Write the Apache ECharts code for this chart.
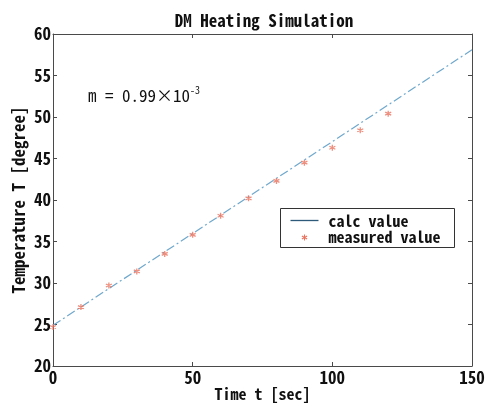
<!DOCTYPE html>
<html>
<head>
<meta charset="utf-8">
<script src="https://cdn.jsdelivr.net/npm/echarts@6/dist/echarts.min.js"></script>
<style>
  html, body { margin: 0; padding: 0; background: #fff; }
  #chart { width: 489px; height: 403px; }
</style>
</head>
<body>
<div id="chart"></div>
<script>
// Sample times (sec) and measured temperatures (degree)
const measuredTime = [0, 10, 20, 30, 40, 50, 60, 70, 80, 90, 100, 110, 120];
const measuredTemp = [24.7, 27.1, 29.7, 31.4, 33.5, 35.8, 38.1, 40.2, 42.3, 44.5, 46.3, 48.4, 50.4];

// Calculated heating curve (end points of the straight fit)
const calcTime = [0, 150];
const calcTemp = [24.9, 58.1];

// Axis tick values
const xTicks = [0, 50, 100, 150];
const yTicks = [20, 25, 30, 35, 40, 45, 50, 55, 60];

const seriesNames = ['calc value', 'measured value'];

const MONO = "'Noto Sans Mono CJK JP', 'DejaVu Sans Mono', monospace";
const AXIS_COLOR = '#4a4a4a';
const CALC_COLOR = '#6fa8cc';
const CALC_LEGEND_COLOR = '#2c5a78';
const MEAS_COLOR = '#e8735f';

const asterisk = 'path://M0,-5L0,5M-4.33,-2.5L4.33,2.5M-4.33,2.5L4.33,-2.5';

// small asterisk built from three strokes, for the legend key
function legendStar(cx, cy, r) {
  const s = { stroke: MEAS_COLOR, lineWidth: 1.1 };
  const dx = r * 0.866, dy = r * 0.5;
  return [
    { type: 'line', shape: { x1: cx, y1: cy - r, x2: cx, y2: cy + r }, style: s },
    { type: 'line', shape: { x1: cx - dx, y1: cy - dy, x2: cx + dx, y2: cy + dy }, style: s },
    { type: 'line', shape: { x1: cx - dx, y1: cy + dy, x2: cx + dx, y2: cy - dy }, style: s }
  ];
}

const chart = echarts.init(document.getElementById('chart'), null, { renderer: 'canvas' });

const baseX = {
  type: 'value', min: xTicks[0], max: xTicks[xTicks.length - 1], interval: 50,
  axisLine: { show: true, onZero: false, lineStyle: { color: AXIS_COLOR, width: 1 } },
  axisTick: { show: true, inside: true, length: 4, lineStyle: { color: AXIS_COLOR } },
  splitLine: { show: false }
};
const baseY = {
  type: 'value', min: yTicks[0], max: yTicks[yTicks.length - 1], interval: 5,
  axisLine: { show: true, onZero: false, lineStyle: { color: AXIS_COLOR, width: 1 } },
  axisTick: { show: true, inside: true, length: 4, lineStyle: { color: AXIS_COLOR } },
  splitLine: { show: false }
};

chart.setOption({
  animation: false,
  backgroundColor: '#ffffff',
  grid: { left: 53, right: 17, top: 34, bottom: 37, containLabel: false, outerBoundsMode: 'none' },
  xAxis: [
    Object.assign({}, baseX, {
      position: 'bottom',
      name: 'Time t [sec]', nameLocation: 'middle', nameGap: 20, nameMoveOverlap: false,
      nameTextStyle: { fontFamily: MONO, fontWeight: 'bold', fontSize: 16, color: '#111' },
      axisLabel: { margin: 3, fontFamily: MONO, fontWeight: 'bold', fontSize: 17, color: '#111' }
    }),
    Object.assign({}, baseX, { position: 'top', axisLabel: { show: false } })
  ],
  yAxis: [
    Object.assign({}, baseY, {
      position: 'left',
      name: 'Temperature T [degree]', nameLocation: 'middle', nameGap: 26, nameMoveOverlap: false,
      nameTextStyle: { fontFamily: MONO, fontWeight: 'bold', fontSize: 17, color: '#111' },
      axisLabel: { margin: 2, fontFamily: MONO, fontWeight: 'bold', fontSize: 17, color: '#111' }
    }),
    Object.assign({}, baseY, { position: 'right', axisLabel: { show: false } })
  ],
  graphic: [
    {
      // chart title, centred over the plot area
      type: 'text',
      x: 264, y: 21,
      style: {
        text: 'DM Heating Simulation', fontFamily: MONO, fontWeight: 'bold', fontSize: 17,
        fill: '#111', align: 'center', verticalAlign: 'middle'
      }
    },
    {
      // slope annotation
      type: 'text',
      left: 88, top: 85,
      style: {
        text: '{a|m = 0.99×10}{s|-3}',
        rich: {
          a: { fontFamily: MONO, fontSize: 17, fill: '#111' },
          s: { fontFamily: MONO, fontSize: 10, fill: '#111', padding: [0, 0, 12, 0] }
        }
      }
    },
    {
      // legend box
      type: 'group',
      left: 280, top: 208,
      children: [
        { type: 'rect', shape: { x: 0, y: 0, width: 174, height: 39 },
          style: { fill: '#fff', stroke: '#333', lineWidth: 1 } },
        { type: 'line', shape: { x1: 10, y1: 12, x2: 38, y2: 12 },
          style: { stroke: CALC_LEGEND_COLOR, lineWidth: 1.3 } },
        { type: 'text', x: 48, y: 12,
          style: { text: seriesNames[0], fontFamily: MONO, fontWeight: 'bold', fontSize: 16,
                   fill: '#111', verticalAlign: 'middle' } }
      ].concat(legendStar(24, 29, 3)).concat([
        { type: 'text', x: 48, y: 28,
          style: { text: seriesNames[1], fontFamily: MONO, fontWeight: 'bold', fontSize: 16,
                   fill: '#111', verticalAlign: 'middle' } }
      ])
    }
  ],
  series: [
    {
      name: seriesNames[0],
      type: 'line',
      data: calcTime.map((t, i) => [t, calcTemp[i]]),
      showSymbol: false, symbol: 'none',
      lineStyle: { color: CALC_COLOR, width: 1.2, type: [9, 3, 2, 3] },
      z: 2
    },
    {
      name: seriesNames[1],
      type: 'scatter',
      data: measuredTime.map((t, i) => [t, measuredTemp[i]]),
      symbol: asterisk, symbolSize: 6,
      itemStyle: { color: 'none', borderColor: MEAS_COLOR, borderWidth: 1.3 },
      z: 3
    }
  ]
});
</script>
</body>
</html>
